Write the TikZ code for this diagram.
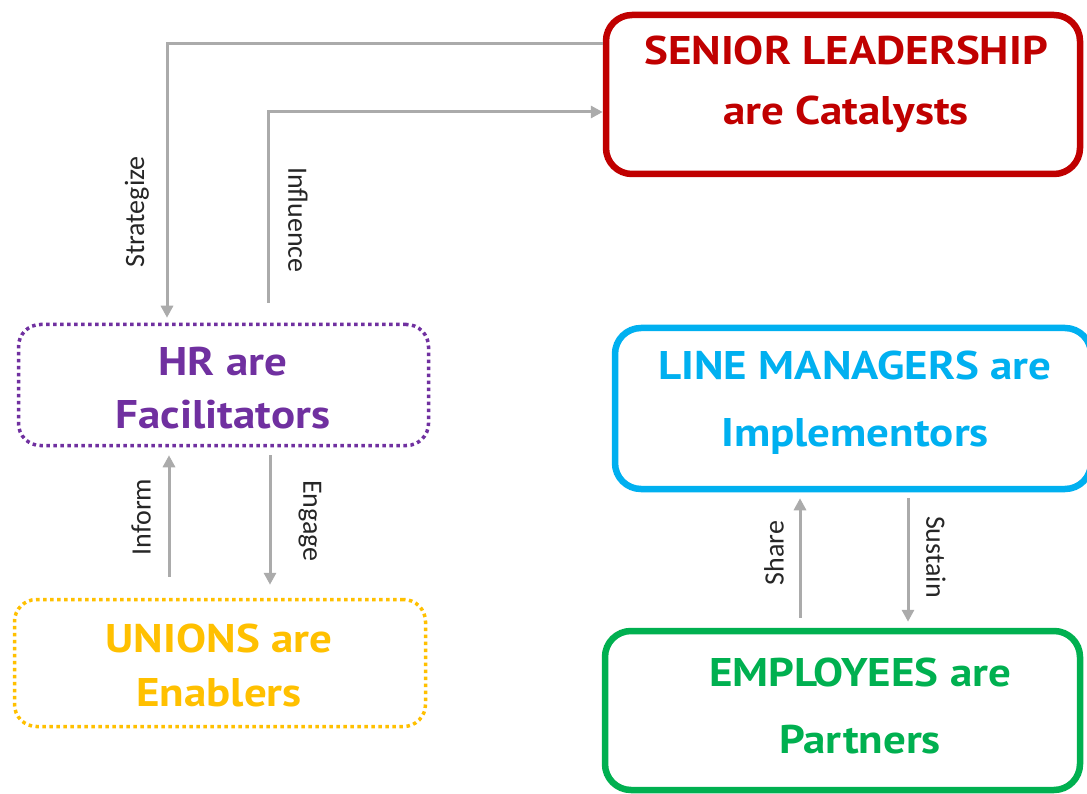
\documentclass[tikz,border=0pt]{standalone}
\usepackage{fontspec}
\setmainfont{Carlito}
\newfontfamily\ptsans{PT Sans}[FakeStretch=1.125]
\usetikzlibrary{arrows.meta}
\definecolor{slred}{HTML}{C00000}
\definecolor{hrpurple}{HTML}{7030A0}
\definecolor{unyellow}{HTML}{FFC000}
\definecolor{lmblue}{HTML}{00B0F0}
\definecolor{empgreen}{HTML}{00B050}
\definecolor{conngray}{HTML}{ABABAB}
\definecolor{labelgray}{HTML}{262626}
\tikzset{
  solidbox/.style={draw, line width=6.5pt, rounded corners=26pt, fill=white},
  dotbox/.style={draw, line width=3.5pt, rounded corners=22pt, dash pattern=on 3.5pt off 3.5pt, fill=white},
  title/.style={align=center, inner sep=0pt},
  conn/.style={draw=conngray, line width=3pt, -{Triangle[length=12pt,width=12pt]}},
  verb/.style={font=\fontsize{28}{30}\selectfont, text=labelgray, inner sep=0pt},
}
\begin{document}
\begin{tikzpicture}[x=1pt,y=-1pt]
\clip (0,0) rectangle (1087,794);
\fill[white] (0,0) rectangle (1087,794);

% boxes
\node[solidbox, draw=slred, minimum width=474pt, minimum height=159pt] (senior) at (843,94.5) {};
\node[dotbox, draw=hrpurple, minimum width=410pt, minimum height=121pt] (hr) at (223.5,385) {};
\node[dotbox, draw=unyellow, minimum width=411pt, minimum height=127pt] (unions) at (220,663) {};
\node[solidbox, draw=lmblue, minimum width=476pt, minimum height=161pt] (lm) at (853,408.5) {};
\node[solidbox, draw=empgreen, minimum width=475pt, minimum height=159pt] (emp) at (842.5,710.5) {};

% box texts
\node[title, text=slred, font=\ptsans\bfseries\fontsize{40}{60}\selectfont] (seniortxt) at (846,84) {SENIOR LEADERSHIP\\are Catalysts};
\node[title, text=hrpurple, font=\ptsans\bfseries\fontsize{40}{53}\selectfont] (hrtxt) at (223,388) {HR are\\Facilitators};
\node[title, text=unyellow, font=\ptsans\bfseries\fontsize{40}{54}\selectfont] (untxt) at (219,665) {UNIONS are\\Enablers};
\node[title, text=lmblue, font=\ptsans\bfseries\fontsize{40}{67}\selectfont] (lmtxt) at (855,403) {LINE MANAGERS are\\Implementors};
\node[title, text=empgreen, font=\ptsans\bfseries\fontsize{40}{67}\selectfont] (emptxt) at (860,706) {EMPLOYEES are\\Partners};

% connectors
\draw[conn, shorten >=5pt] ([yshift=50.5pt]senior.west) -| ([xshift=-56.5pt]hr.north);
\draw[conn, shorten <=20pt] ([xshift=44.5pt]hr.north) |- ([yshift=-17.5pt]senior.west);
\draw[conn, shorten <=21pt, shorten >=8pt] ([xshift=-51pt]unions.north) -- ([xshift=-51pt]unions.north |- hr.south);
\draw[conn, shorten <=8pt, shorten >=13pt] ([xshift=46.5pt]hr.south) -- ([xshift=46.5pt]hr.south |- unions.north);
\draw[conn, shorten <=10pt, shorten >=6pt] ([xshift=-42.5pt]emp.north) -- ([xshift=-42.5pt]emp.north |- lm.south);
\draw[conn, shorten <=6pt, shorten >=6pt] ([xshift=55pt]lm.south) -- ([xshift=55pt]lm.south |- emp.north);

% connector labels
\node[verb, rotate=90] (lstrat) at (137,212) {Strategize};
\node[verb, rotate=-90] (linfl) at (298,220) {Influence};
\node[verb, rotate=90] (linform) at (141,517) {Inform};
\node[verb, rotate=-90] (lengage) at (310,521) {Engage};
\node[verb, rotate=90] (lshare) at (774,553) {Share};
\node[verb, rotate=-90] (lsustain) at (936,557) {Sustain};
\end{tikzpicture}
\end{document}
